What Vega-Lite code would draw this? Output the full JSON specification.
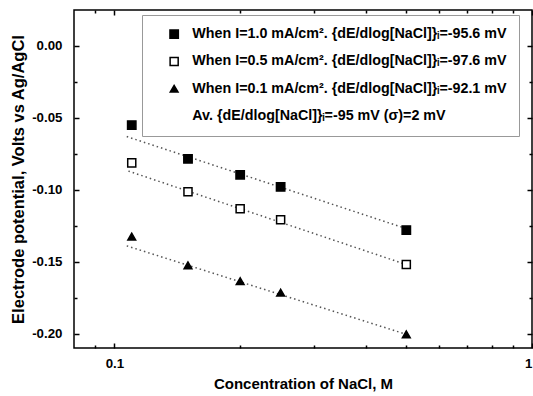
{
  "$schema": "https://vega.github.io/schema/vega-lite/v6.json",
  "autosize": "none",
  "width": 458,
  "height": 338,
  "padding": {"left": 74, "top": 10, "right": 1, "bottom": 48},
  "config": {
    "view": {"stroke": "#000", "strokeWidth": 1.5},
    "font": "Liberation Sans",
    "axis": {
      "grid": false, "domain": false, "tickColor": "#000", "tickWidth": 1.5,
      "labelFont": "Liberation Sans", "labelFontWeight": "bold", "labelFontSize": 13.3, "labelColor": "#000",
      "titleFont": "Liberation Sans", "titleFontWeight": "bold", "titleColor": "#000"
    }
  },
  "datasets": {
    "pts": [
      {"c": 0.11, "E": -0.055, "series": "s1"},
      {"c": 0.15, "E": -0.0785, "series": "s1"},
      {"c": 0.2, "E": -0.0896, "series": "s1"},
      {"c": 0.25, "E": -0.098, "series": "s1"},
      {"c": 0.5, "E": -0.128, "series": "s1"},
      {"c": 0.11, "E": -0.0813, "series": "s2"},
      {"c": 0.15, "E": -0.1014, "series": "s2"},
      {"c": 0.2, "E": -0.1132, "series": "s2"},
      {"c": 0.25, "E": -0.1208, "series": "s2"},
      {"c": 0.5, "E": -0.152, "series": "s2"},
      {"c": 0.11, "E": -0.1325, "series": "s3"},
      {"c": 0.15, "E": -0.1525, "series": "s3"},
      {"c": 0.2, "E": -0.1635, "series": "s3"},
      {"c": 0.25, "E": -0.1715, "series": "s3"},
      {"c": 0.5, "E": -0.2005, "series": "s3"}
    ],
    "fits": [
      {"c": 0.107, "E": -0.063, "series": "s1"},
      {"c": 0.5, "E": -0.127, "series": "s1"},
      {"c": 0.108, "E": -0.087, "series": "s2"},
      {"c": 0.5, "E": -0.152, "series": "s2"},
      {"c": 0.107, "E": -0.139, "series": "s3"},
      {"c": 0.5, "E": -0.2005, "series": "s3"}
    ]
  },
  "resolve": {"axis": {"x": "independent", "y": "independent"}},
  "layer": [
    {
      "data": {"name": "fits"},
      "transform": [{"filter": "datum.series == 's1'"}],
      "mark": {"type": "line", "color": "#555", "strokeWidth": 1.5, "strokeDash": [1.5, 3]},
      "encoding": {
        "x": {"field": "c", "type": "quantitative",
          "scale": {"type": "log", "domain": [0.08, 1], "nice": false},
          "axis": {"orient": "bottom", "values": [0.1, 1], "format": "~g", "offset": -5, "tickSize": 5, "labelPadding": 8,
                   "title": "Concentration of NaCl, M", "titleFontSize": 15, "titlePadding": 7}},
        "y": {"field": "E", "type": "quantitative",
          "scale": {"domain": [-0.21, 0.025], "nice": false, "zero": false},
          "axis": {"orient": "left", "values": [0, -0.05, -0.1, -0.15, -0.2], "format": ".2f",
                   "labelExpr": "replace(datum.label, '\u2212', '-')", "offset": -5, "tickSize": 5, "labelPadding": 12,
                   "title": "Electrode potential, Volts vs Ag/AgCl", "titleFontSize": 16.5, "titlePadding": 5}}
      }
    },
    {
      "data": {"name": "fits"},
      "transform": [{"filter": "datum.series == 's2'"}],
      "mark": {"type": "line", "color": "#555", "strokeWidth": 1.5, "strokeDash": [1.5, 3]},
      "encoding": {
        "x": {"field": "c", "type": "quantitative",
          "axis": {"orient": "bottom", "values": [0.09, 0.2, 0.3, 0.4, 0.5, 0.6, 0.7, 0.8, 0.9], "labels": false, "offset": -3, "tickSize": 3, "title": null}},
        "y": {"field": "E", "type": "quantitative",
          "axis": {"orient": "left", "values": [-0.025, -0.075, -0.125, -0.175], "labels": false, "offset": -3, "tickSize": 3, "title": null}}
      }
    },
    {
      "data": {"name": "fits"},
      "transform": [{"filter": "datum.series == 's3'"}],
      "mark": {"type": "line", "color": "#555", "strokeWidth": 1.5, "strokeDash": [1.5, 3]},
      "encoding": {
        "x": {"field": "c", "type": "quantitative",
          "axis": {"orient": "top", "values": [0.1, 1], "labels": false, "offset": -5, "tickSize": 5, "title": null}},
        "y": {"field": "E", "type": "quantitative",
          "axis": {"orient": "right", "values": [0, -0.05, -0.1, -0.15, -0.2], "labels": false, "offset": -5, "tickSize": 5, "title": null}}
      }
    },
    {
      "data": {"name": "pts"},
      "mark": {"type": "point", "filled": true, "strokeWidth": 1.5, "opacity": 1},
      "encoding": {
        "x": {"field": "c", "type": "quantitative",
          "axis": {"orient": "top", "values": [0.09, 0.2, 0.3, 0.4, 0.5, 0.6, 0.7, 0.8, 0.9], "labels": false, "offset": -3, "tickSize": 3, "title": null}},
        "y": {"field": "E", "type": "quantitative",
          "axis": {"orient": "right", "values": [-0.025, -0.075, -0.125, -0.175], "labels": false, "offset": -3, "tickSize": 3, "title": null}},
        "shape": {"field": "series", "type": "nominal",
          "scale": {"domain": ["s1", "s2", "s3", "av"], "range": ["square", "square", "triangle-up", "square"]},
          "legend": {
            "orient": "none", "legendX": 68, "legendY": 5, "title": null,
            "strokeColor": "#999", "fillColor": "#fff", "padding": 12,
            "labelFont": "Liberation Sans", "labelFontWeight": "bold", "labelFontSize": 14.3, "labelColor": "#000",
            "labelLimit": 600, "rowPadding": 12.3, "symbolOffset": 13, "labelOffset": 11,
            "labelExpr": "datum.value == 's1' ? 'When I=1.0 mA/cm\u00b2. {dE/dlog[NaCl]}\u1d62=-95.6 mV' : datum.value == 's2' ? 'When I=0.5 mA/cm\u00b2. {dE/dlog[NaCl]}\u1d62=-97.6 mV' : datum.value == 's3' ? 'When I=0.1 mA/cm\u00b2. {dE/dlog[NaCl]}\u1d62=-92.1 mV' : 'Av. {dE/dlog[NaCl]}\u1d62=-95 mV (\u03c3)=2 mV'"
          }},
        "fill": {"field": "series", "type": "nominal",
          "scale": {"domain": ["s1", "s2", "s3", "av"], "range": ["#000", "#fff", "#000", "transparent"]}},
        "stroke": {"field": "series", "type": "nominal",
          "scale": {"domain": ["s1", "s2", "s3", "av"], "range": ["#000", "#000", "#000", "transparent"]}},
        "size": {"field": "series", "type": "nominal",
          "scale": {"domain": ["s1", "s2", "s3", "av"], "range": [70, 55, 110, 10]}}
      }
    }
  ]
}
